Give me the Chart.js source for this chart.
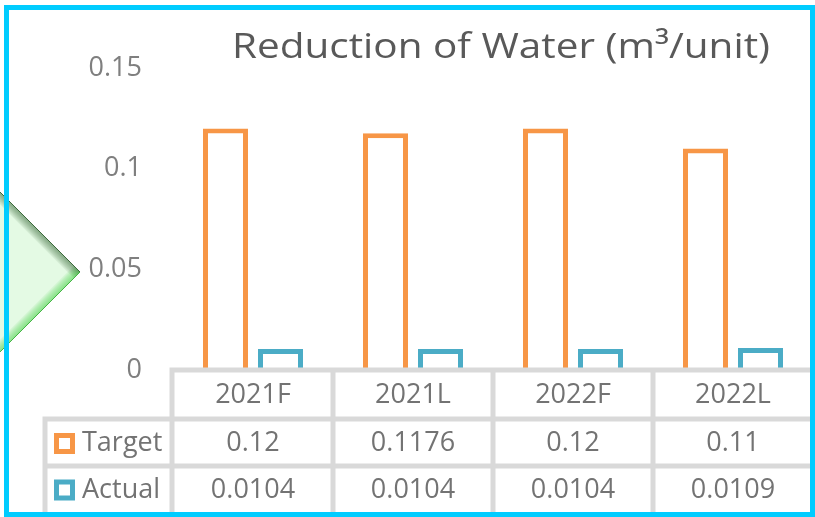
<!DOCTYPE html>
<html>
<head>
<meta charset="utf-8">
<script src="https://cdn.jsdelivr.net/npm/chart.js@4.4.0/dist/chart.umd.min.js"></script>
<style>
  html, body { margin: 0; padding: 0; background: #ffffff; }
  canvas { display: block; }
</style>
</head>
<body>
<canvas id="c" width="815" height="517"></canvas>
<script>
const chartTitle = 'Reduction of Water (m\u00B3/unit)';
const categories = ['2021F', '2021L', '2022F', '2022L'];
const seriesNames = ['Target', 'Actual'];
const targetValues = [0.12, 0.1176, 0.12, 0.11];
const actualValues = [0.0104, 0.0104, 0.0104, 0.0109];
const yTickValues = [0, 0.05, 0.1, 0.15];
const yTickLabels = ['0', '0.05', '0.1', '0.15'];

const ORANGE = '#F79646';
const TEAL = '#4BACC6';
const GRID = '#D9D9D9';
const FONT = '"Open Sans", "Noto Sans", sans-serif';

const decorPlugin = {
  id: 'decor',
  beforeDraw(chart) {
    const ctx = chart.ctx;
    ctx.save();
    ctx.fillStyle = '#ffffff';
    ctx.fillRect(0, 0, chart.width, chart.height);
    ctx.restore();
  },
  afterDraw(chart) {
    const ctx = chart.ctx;
    const area = chart.chartArea;
    const xs = chart.scales.x;
    const step = xs.getPixelForValue(1) - xs.getPixelForValue(0);
    const bounds = categories.map((c, i) => xs.getPixelForValue(i) - step / 2);
    bounds.push(xs.getPixelForValue(categories.length - 1) + step / 2);

    const top = area.bottom;           // header row top
    const r1 = top + 49;               // first data row top
    const r2 = r1 + 47;                // second data row top
    const bottom = chart.height;
    const legendLeft = 45;

    ctx.save();
    // table grid
    ctx.strokeStyle = GRID;
    ctx.lineWidth = 5;
    ctx.beginPath();
    ctx.moveTo(bounds[0] - 3, top); ctx.lineTo(chart.width, top);
    ctx.moveTo(legendLeft - 2.5, r1); ctx.lineTo(chart.width, r1);
    ctx.moveTo(legendLeft - 2.5, r2); ctx.lineTo(chart.width, r2);
    ctx.moveTo(bounds[0] - 1, top - 2.5); ctx.lineTo(bounds[0] - 1, bottom);
    ctx.moveTo(legendLeft, r1 - 2.5); ctx.lineTo(legendLeft, bottom);
    for (let i = 1; i < bounds.length; i++) {
      ctx.moveTo(bounds[i], top); ctx.lineTo(bounds[i], bottom);
    }
    ctx.stroke();

    // table text
    ctx.font = '27px ' + FONT;
    ctx.fillStyle = '#737373';
    ctx.textAlign = 'center';
    ctx.textBaseline = 'middle';
    const rowsY = [(top + r1) / 2 + 1, (r1 + r2) / 2 + 1, (r2 + 512) / 2 + 1];
    categories.forEach((c, i) => {
      const cx = xs.getPixelForValue(i);
      ctx.fillText(c, cx, rowsY[0]);
      ctx.fillText(String(targetValues[i]), cx, rowsY[1]);
      ctx.fillText(String(actualValues[i]), cx, rowsY[2]);
    });

    // legend keys + names
    const colors = [ORANGE, TEAL];
    seriesNames.forEach((name, k) => {
      const cy = rowsY[k + 1];
      ctx.strokeStyle = colors[k];
      ctx.lineWidth = 5;
      ctx.strokeRect(54 + 2.5, cy - 10.5 + 2.5, 21 - 5, 21 - 5);
      ctx.textAlign = 'left';
      ctx.fillStyle = '#737373';
      ctx.fillText(name, 82, cy);
    });

    // title (narrow-font look: stretched horizontally to the reference width)
    ctx.save();
    ctx.font = '35px ' + FONT;
    ctx.fillStyle = '#595959';
    ctx.textAlign = 'left';
    ctx.textBaseline = 'alphabetic';
    const tw = ctx.measureText(chartTitle).width;
    ctx.translate(232, 58);
    ctx.scale(538 / tw, 1);
    ctx.fillText(chartTitle, 0, 0);
    ctx.restore();

    // green arrow shape on the left
    ctx.save();
    ctx.beginPath();
    ctx.moveTo(0, 192);
    ctx.lineTo(80, 272);
    ctx.lineTo(0, 352);
    ctx.closePath();
    ctx.fillStyle = '#E4FAE4';
    ctx.fill();
    ctx.clip();
    for (let k = 8; k >= 1; k--) {
      ctx.lineWidth = k * 2.2;
      ctx.strokeStyle = 'rgba(40,95,40,0.08)';
      ctx.beginPath(); ctx.moveTo(0, 192); ctx.lineTo(80, 272); ctx.stroke();
      ctx.strokeStyle = 'rgba(70,210,70,0.09)';
      ctx.beginPath(); ctx.moveTo(80, 272); ctx.lineTo(0, 352); ctx.stroke();
    }
    ctx.restore();
    ctx.lineWidth = 1;
    ctx.strokeStyle = '#3C6A3C';
    ctx.beginPath(); ctx.moveTo(0, 192); ctx.lineTo(80, 272); ctx.stroke();
    ctx.strokeStyle = '#45B445';
    ctx.beginPath(); ctx.moveTo(80, 272); ctx.lineTo(0, 352); ctx.stroke();

    // outer cyan frame
    ctx.strokeStyle = '#00CCFF';
    ctx.lineWidth = 5;
    ctx.strokeRect(6.5, 7.5, 806, 507);
    ctx.restore();
  }
};

new Chart(document.getElementById('c'), {
  type: 'bar',
  data: {
    labels: categories,
    datasets: [
      {
        label: seriesNames[0],
        data: targetValues,
        backgroundColor: '#ffffff',
        borderColor: ORANGE,
        borderWidth: 5,
        borderSkipped: 'bottom',
        barPercentage: 0.818,
        categoryPercentage: 0.6875
      },
      {
        label: seriesNames[1],
        data: actualValues,
        backgroundColor: '#ffffff',
        borderColor: TEAL,
        borderWidth: 5,
        borderSkipped: 'bottom',
        barPercentage: 0.818,
        categoryPercentage: 0.6875
      }
    ]
  },
  options: {
    responsive: false,
    animation: false,
    devicePixelRatio: 1,
    layout: { padding: { left: 0, top: 68, right: 2, bottom: 147 } },
    plugins: {
      legend: { display: false },
      tooltip: { enabled: false },
      title: { display: false }
    },
    scales: {
      x: {
        display: false,
        offset: true
      },
      y: {
        min: 0,
        max: 0.15,
        afterBuildTicks: (s) => { s.ticks = yTickValues.map(v => ({ value: v })); },
        afterFit: (s) => { s.width = 173; },
        grid: { display: false, drawTicks: false },
        border: { display: false },
        ticks: {
          padding: 31,
          color: '#7F7F7F',
          font: { family: FONT, size: 27 },
          callback: (v, i) => yTickLabels[i]
        }
      }
    }
  },
  plugins: [decorPlugin]
});
</script>
</body>
</html>
